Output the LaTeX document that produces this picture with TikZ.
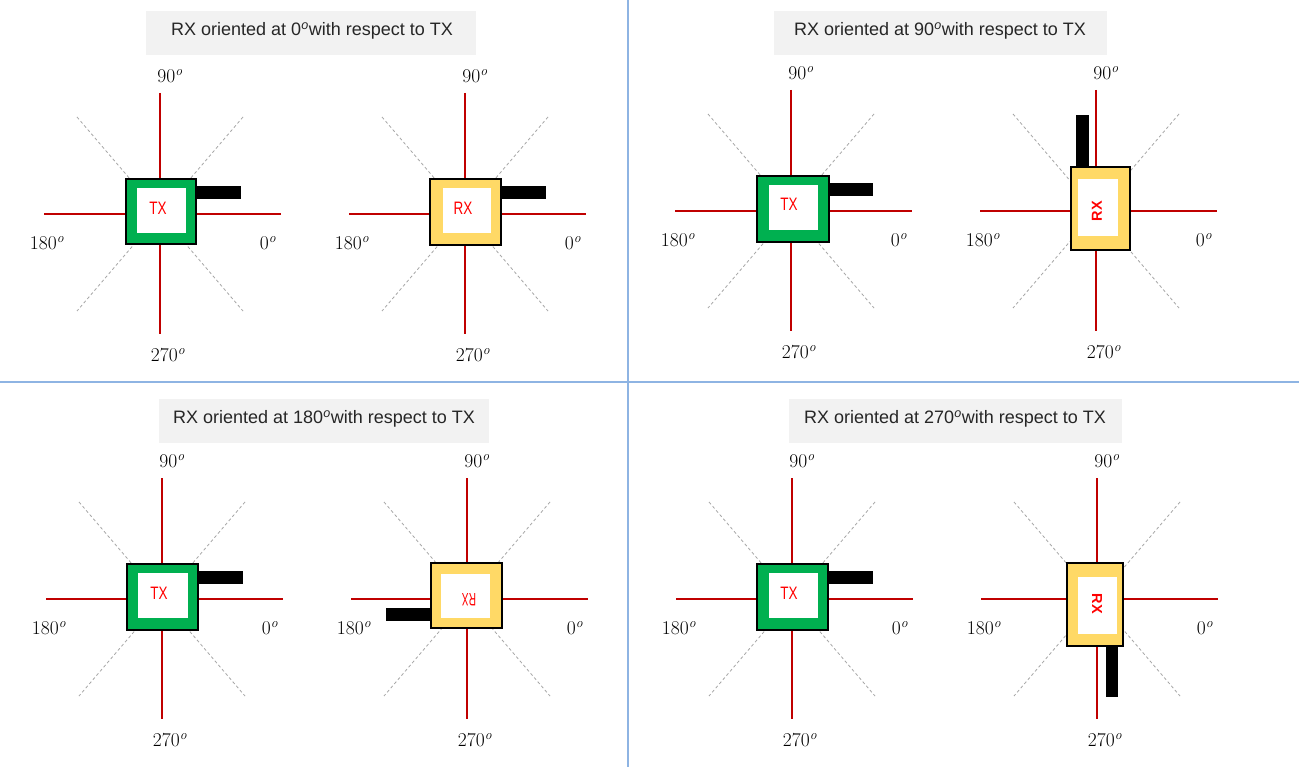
\documentclass[tikz,border=0pt]{standalone}
\usepackage{fontspec}
\newfontfamily\sansfont{Liberation Sans}
\usetikzlibrary{calc}
\definecolor{ttlgray}{HTML}{F2F2F2}
\definecolor{ttltext}{HTML}{262626}
\definecolor{txgreen}{HTML}{00B050}
\definecolor{rxyellow}{HTML}{FFD966}
\definecolor{axred}{HTML}{C00000}
\definecolor{diaggray}{HTML}{A6A6A6}
\definecolor{sepblue}{HTML}{8EB4E3}
\definecolor{devred}{HTML}{FF0000}
\newcommand\dg{\textsuperscript{\itshape o}}
\tikzset{
  ttl/.style={fill=ttlgray, inner sep=0pt, minimum width=330pt, minimum height=44pt},
  ttltxt/.style={inner sep=0pt, text=ttltext, font=\sansfont\fontsize{18pt}{20pt}\selectfont},
  axisline/.style={draw=axred, line width=1.1pt},
  diag/.style={draw=diaggray, line width=0.8pt, dash pattern=on 3pt off 2.5pt},
  lbl/.style={inner sep=0pt, font=\fontsize{19.5pt}{22pt}\selectfont},
  txbox/.style={draw=black, line width=1.8pt, fill=txgreen, inner sep=0pt},
  rxbox/.style={draw=black, line width=1.8pt, fill=rxyellow, inner sep=0pt},
  inbox/.style={fill=white, inner sep=0pt},
  devtxt/.style={inner sep=0pt, text=devred, font=\sansfont\fontsize{18pt}{20pt}\selectfont, xscale=0.75},
  devrot/.style={inner sep=0pt, text=devred, font=\sansfont\bfseries\fontsize{14.5pt}{16pt}\selectfont},
  ant/.style={fill=black},
  sep/.style={draw=sepblue, line width=1.5pt}
}
\newcommand\compass[3]{%
 \begin{scope}[shift={(#2,#3)}]
  \coordinate (#1c) at (0,0);
  \coordinate (#1n) at (0,-121); \coordinate (#1s) at (0,120);
  \coordinate (#1w) at (-116,0); \coordinate (#1e) at (121,0);
  \coordinate (#1nw) at (-83,-97); \coordinate (#1se) at (83,97);
  \coordinate (#1ne) at (83,-97); \coordinate (#1sw) at (-83,97);
  \draw[diag] (#1nw) -- (#1se);
  \draw[diag] (#1ne) -- (#1sw);
  \draw[axisline] (#1n) -- (#1s);
  \draw[axisline] (#1w) -- (#1e);
  \node[lbl] (#1l90) at (10,-138) {90\dg};
  \node[lbl] (#1l180) at (-113,29) {180\dg};
  \node[lbl] (#1l0) at (108,29) {0\dg};
  \node[lbl] (#1l270) at (8,141) {270\dg};
 \end{scope}}
\begin{document}
\begin{tikzpicture}[x=1pt,y=-1pt]
\useasboundingbox (0,0) rectangle (1299,767);
\fill[white] (0,0) rectangle (1299,767);
% separators
\coordinate (vt) at (628,0); \coordinate (vb) at (628,767);
\coordinate (hl) at (0,382); \coordinate (hr) at (1299,382);
\draw[sep] (vt) -- (vb);
\draw[sep] (hl) -- (hr);
% titles
\node[ttl, minimum width=330pt] (t1) at (311,33) {};
\node[ttltxt] (t1t) at (312,31) {RX oriented at 0\dg with respect to TX};
\node[ttl, minimum width=333pt] (t2) at (940.5,33) {};
\node[ttltxt] (t2t) at (940,31) {RX oriented at 90\dg with respect to TX};
\node[ttl, minimum width=330pt] (t3) at (324,421) {};
\node[ttltxt] (t3t) at (324,419) {RX oriented at 180\dg with respect to TX};
\node[ttl, minimum width=333pt] (t4) at (955.5,421) {};
\node[ttltxt] (t4t) at (955,419) {RX oriented at 270\dg with respect to TX};
% compasses
\compass{a}{160}{214}
\compass{b}{465}{214}
\compass{c}{791}{211}
\compass{d}{1096}{211}
\compass{e}{162}{599}
\compass{f}{467}{599}
\compass{g}{792}{599}
\compass{h}{1097}{599}
% TL left: TX
\fill[ant] (196,186) rectangle (241,199);
\node[txbox, minimum width=70pt, minimum height=65pt] (tx1) at (161,211.5) {};
\node[inbox, minimum width=49pt, minimum height=45pt] (tx1in) at (161.5,210.5) {};
\node[devtxt] (tx1t) at (158,208) {TX};
% TL right: RX 0
\fill[ant] (501,186) rectangle (546,199);
\node[rxbox, minimum width=71pt, minimum height=66pt] (rx1) at (465.5,212) {};
\node[inbox, minimum width=48pt, minimum height=45pt] (rx1in) at (467,210.5) {};
\node[devtxt] (rx1t) at (463,208) {RX};
% TR left: TX
\fill[ant] (829,183) rectangle (873,196);
\node[txbox, minimum width=72pt, minimum height=66pt] (tx2) at (793,209) {};
\node[inbox, minimum width=49pt, minimum height=45pt] (tx2in) at (793.5,207.5) {};
\node[devtxt] (tx2t) at (789,204) {TX};
% TR right: RX 90
\fill[ant] (1076,115) rectangle (1089,167);
\node[rxbox, minimum width=59pt, minimum height=83pt] (rx2) at (1100.5,208.5) {};
\node[inbox, minimum width=40pt, minimum height=57pt] (rx2in) at (1098,207.5) {};
\node[devrot, rotate=90] (rx2t) at (1097,211) {RX};
% BL left: TX
\fill[ant] (198,571) rectangle (243,584);
\node[txbox, minimum width=71pt, minimum height=66pt] (tx3) at (162.5,597) {};
\node[inbox, minimum width=50pt, minimum height=45pt] (tx3in) at (163,595.5) {};
\node[devtxt] (tx3t) at (159,593) {TX};
% BL right: RX 180
\fill[ant] (386,608) rectangle (431,621);
\node[rxbox, minimum width=71pt, minimum height=65pt] (rx3) at (466.5,595.5) {};
\node[inbox, minimum width=49pt, minimum height=44pt] (rx3in) at (465.5,596) {};
\node[devtxt, rotate=180, xscale=0.75] (rx3t) at (469,600) {RX};
% BR left: TX
\fill[ant] (828,571) rectangle (873,584);
\node[txbox, minimum width=71pt, minimum height=66pt] (tx4) at (792.5,597) {};
\node[inbox, minimum width=49pt, minimum height=45pt] (tx4in) at (793.5,595.5) {};
\node[devtxt] (tx4t) at (789,593) {TX};
% BR right: RX 270
\fill[ant] (1106,646) rectangle (1118,697);
\node[rxbox, minimum width=56pt, minimum height=83pt] (rx4) at (1095,604.5) {};
\node[inbox, minimum width=39pt, minimum height=57pt] (rx4in) at (1097.5,605.5) {};
\node[devrot, rotate=-90] (rx4t) at (1097,604) {RX};
\end{tikzpicture}
\end{document}
